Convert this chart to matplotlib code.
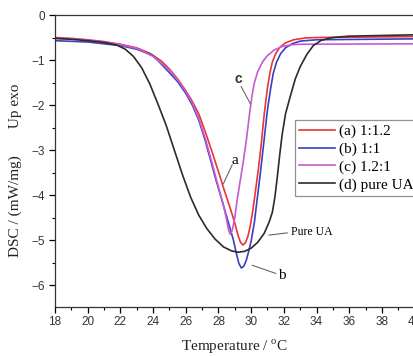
import matplotlib
matplotlib.use('Agg')
import matplotlib.pyplot as plt
from matplotlib.ticker import MultipleLocator

plt.rcParams['mathtext.fontset'] = 'custom'
plt.rcParams['mathtext.rm'] = 'Liberation Serif'

# (a) 1:1.2
t_a = [18, 19, 20, 21, 22, 23, 23.8, 24.5, 25.0, 25.5, 26.0, 26.4, 26.8, 27.2, 27.6,
       28.0, 28.3, 28.7, 29.0, 29.2, 29.35, 29.5, 29.65, 29.8, 29.95, 30.1, 30.25, 30.45,
       30.6, 30.8, 31.0, 31.15, 31.3, 31.5, 31.75, 32.1, 32.6, 33.3, 34.0, 40]
y_a = [-0.50, -0.52, -0.55, -0.59, -0.65, -0.73, -0.85, -1.02, -1.20, -1.42, -1.68, -1.92,
       -2.20, -2.60, -3.03, -3.48, -3.83, -4.27, -4.62, -4.90, -5.05, -5.11, -5.06, -4.92,
       -4.68, -4.35, -3.95, -3.40, -2.93, -2.20, -1.62, -1.28, -1.04, -0.86, -0.72, -0.62,
       -0.55, -0.51, -0.50, -0.48]

# (b) 1:1
t_b = [18, 20, 22, 23, 24, 25, 25.5, 26.0, 26.4, 26.8, 27.2, 27.5, 27.8, 28.2, 28.6, 28.9,
       29.1, 29.25, 29.4, 29.55, 29.7, 29.85, 30.0, 30.2, 30.4, 30.6, 30.8, 31.0, 31.2, 31.35,
       31.55, 31.8, 32.1, 32.5, 33.0, 34.0, 40]
y_b = [-0.57, -0.60, -0.68, -0.76, -0.90, -1.28, -1.48, -1.74, -2.00, -2.34, -2.80, -3.20,
       -3.60, -4.10, -4.60, -4.98, -5.30, -5.52, -5.62, -5.58, -5.45, -5.25, -5.02, -4.60,
       -4.00, -3.40, -2.75, -2.10, -1.62, -1.30, -1.05, -0.86, -0.73, -0.64, -0.58, -0.55,
       -0.53]

# (c) 1.2:1
t_c = [18, 19, 20, 21, 22, 23, 24, 25, 25.5, 26.0, 26.4, 26.8, 27.2, 27.6, 28.0, 28.3,
       28.5, 28.62, 28.72, 28.85, 29.0, 29.15, 29.3, 29.5, 29.7, 29.9, 30.05, 30.2, 30.4,
       30.7, 31.0, 31.4, 31.9, 32.5, 33.0, 40]
y_c = [-0.52, -0.53, -0.56, -0.60, -0.66, -0.74, -0.92, -1.22, -1.44, -1.70, -1.96, -2.30,
       -2.75, -3.28, -3.82, -4.22, -4.55, -4.78, -4.87, -4.78, -4.50, -4.10, -3.75, -3.30,
       -2.80, -2.20, -1.80, -1.50, -1.26, -1.04, -0.90, -0.78, -0.70, -0.66, -0.65, -0.64]

# (d) pure UA
t_d = [18, 19, 20, 21, 21.8, 22.3, 22.8, 23.3, 23.8, 24.3, 24.8, 25.3, 25.8, 26.3, 26.8,
       27.3, 27.8, 28.3, 28.8, 29.2, 29.6, 30.0, 30.4, 30.8, 31.1, 31.3, 31.45, 31.6, 31.75,
       31.9, 32.1, 32.4, 32.7, 33.0, 33.4, 33.8, 34.3, 35.0, 36.0, 40]
y_d = [-0.52, -0.54, -0.57, -0.61, -0.67, -0.76, -0.92, -1.17, -1.53, -1.98, -2.45, -3.00,
       -3.55, -4.05, -4.45, -4.75, -4.98, -5.15, -5.24, -5.27, -5.25, -5.18, -5.05, -4.85,
       -4.60, -4.38, -4.05, -3.60, -3.10, -2.65, -2.20, -1.80, -1.42, -1.15, -0.88, -0.68,
       -0.56, -0.50, -0.47, -0.44]

labels = ['(a) 1:1.2', '(b) 1:1', '(c) 1.2:1', '(d) pure UA']
colors = ['#e8343a', '#3b3fc0', '#c65bd0', '#2b2b2b']

fig = plt.figure(figsize=(4.14, 3.56), dpi=100)
ax = fig.add_axes([55 / 414, 1 - 306.7 / 356, 359.6 / 414, 291.7 / 356])

for t, y, lab, c in zip([t_a, t_b, t_c, t_d], [y_a, y_b, y_c, y_d], labels, colors):
    ax.plot(t, y, color=c, lw=1.2, label=lab, solid_joinstyle='round')

ax.set_xlim(18, 40)
ax.set_ylim(-6.48, 0)
ax.xaxis.set_major_locator(MultipleLocator(2))
ax.xaxis.set_minor_locator(MultipleLocator(1))
ax.yaxis.set_major_locator(MultipleLocator(1))
ax.yaxis.set_minor_locator(MultipleLocator(0.5))
ax.tick_params(which='major', direction='out', length=4, width=0.9, pad=3,
               labelsize=8.5, labelcolor='#333333', right=False, top=False)
ax.tick_params(which='minor', direction='out', length=2.5, width=0.8, right=False, top=False)
for lbl in ax.get_xticklabels() + ax.get_yticklabels():
    lbl.set_family('Liberation Sans')
ax.spines['right'].set_visible(False)
for s in ['left', 'bottom', 'top']:
    ax.spines[s].set_linewidth(0.9)
    ax.spines[s].set_color('#333333')

serif = 'Liberation Serif'
fig.text(235 / 414, 1 - 347 / 356, r'Temperature / $^{\rm o}$C',
         family=serif, fontsize=11, ha='center', va='center', color='#222222')
fig.text(15 / 414, 1 - 170 / 356, 'DSC / (mW/mg)       Up exo', family=serif, fontsize=11,
         rotation=90, ha='center', va='center', color='#222222')

leg = ax.legend(loc='upper left', bbox_to_anchor=(0.667, 0.64), prop={'family': serif, 'size': 11},
                frameon=True, fancybox=False, edgecolor='#777777', borderpad=0.3,
                labelspacing=0.25, handlelength=2.3, handletextpad=0.3, borderaxespad=0)
leg.get_frame().set_linewidth(0.9)

ann = dict(color='#666666', lw=0.8)
ax.plot([28.84, 28.3], [-3.33, -3.75], **ann)
ax.text(28.98, -3.24, 'a', family=serif, fontsize=11, ha='center', va='center')
ax.plot([29.39, 29.95], [-1.59, -1.97], **ann)
ax.text(29.23, -1.42, 'c', family='Liberation Sans', fontsize=10, fontweight='bold',
        ha='center', va='center', color='#333333')
ax.plot([30.07, 31.5], [-5.56, -5.74], **ann)
ax.text(31.9, -5.78, 'b', family=serif, fontsize=11, ha='center', va='center')
ax.plot([31.09, 32.21], [-4.89, -4.84], **ann)
ax.text(32.45, -4.82, 'Pure UA', family=serif, fontsize=8.5, ha='left', va='center')

fig.savefig('out.png', dpi=100)
